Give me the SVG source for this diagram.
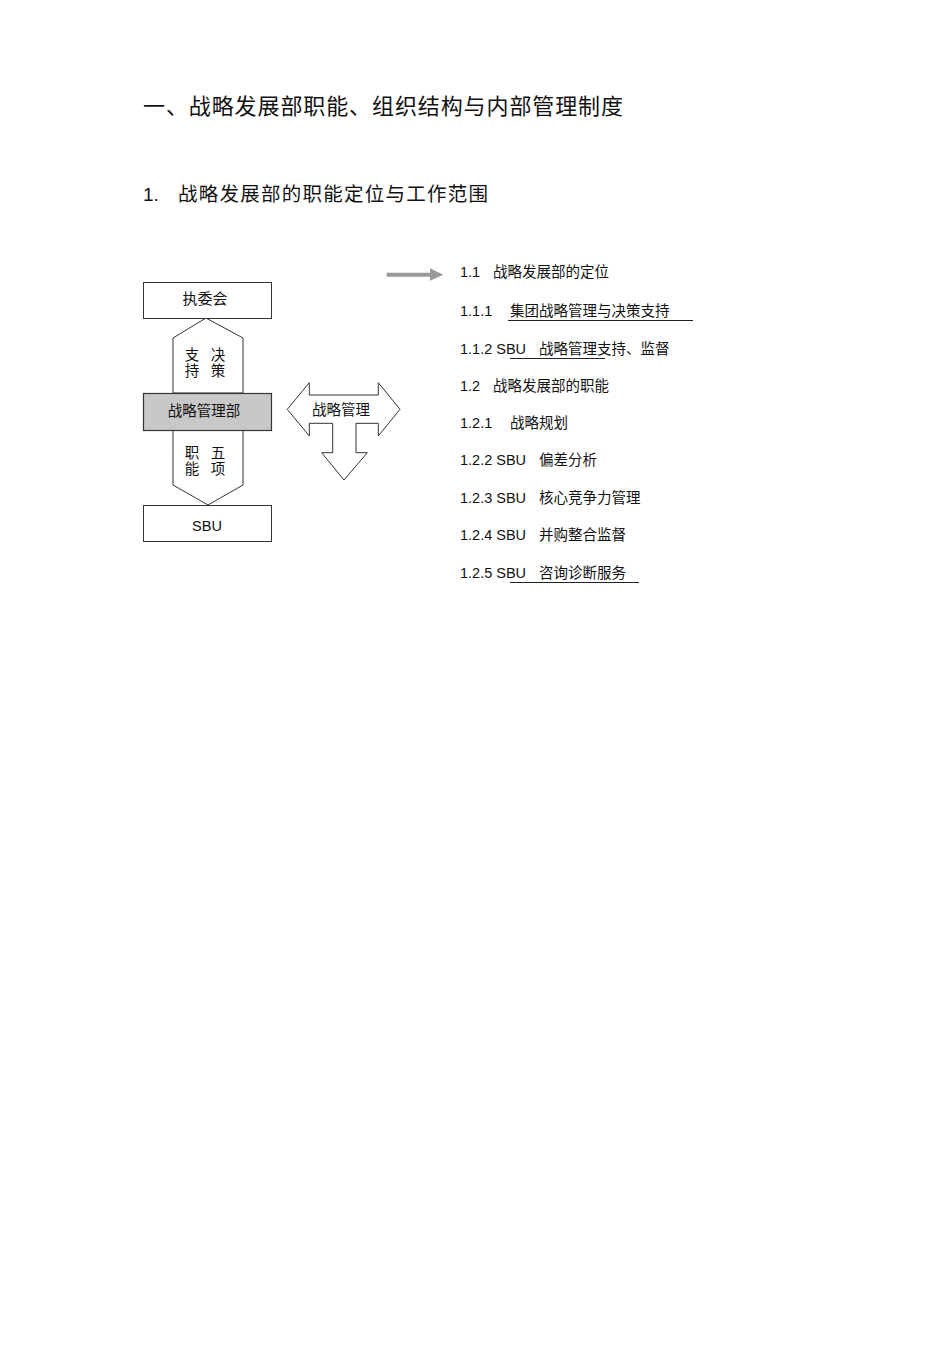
<svg xmlns="http://www.w3.org/2000/svg" width="950" height="1346" viewBox="0 0 950 1346">
<style>
text{font-family:"Liberation Sans","Noto Sans CJK SC",sans-serif;fill:#111}
.box{fill:#fff;stroke:#333;stroke-width:1}
.gray{fill:#c8c8c8;stroke:#333;stroke-width:1.2}
.s14{font-size:14.5px}
.s13{font-size:14.5px}
.mid{text-anchor:middle}
.ul{stroke:#222;stroke-width:1}
</style>
<rect width="950" height="1346" fill="#fff"/>
<text x="143" y="114" style="font-size:22px" textLength="480" lengthAdjust="spacing">一、战略发展部职能、组织结构与内部管理制度</text>
<text x="143" y="201" style="font-size:19px">1.</text>
<text x="178" y="201" style="font-size:19.5px" textLength="310" lengthAdjust="spacing">战略发展部的职能定位与工作范围</text>

<g id="upper-hex"><polygon class="box" points="173,338 206,318 243,338 243,393 173,393"/>
<text class="s14 mid" x="192" y="360">支</text><text class="s14 mid" x="218" y="360">决</text>
<text class="s14 mid" x="192" y="376">持</text><text class="s14 mid" x="218" y="376">策</text></g>
<g id="lower-hex"><polygon class="box" points="173,430 243,430 243,485 208,505 173,485"/>
<text class="s14 mid" x="192" y="458">职</text><text class="s14 mid" x="218" y="458">五</text>
<text class="s14 mid" x="192" y="474">能</text><text class="s14 mid" x="218" y="474">项</text></g>
<g id="exec"><rect class="box" x="143.5" y="282.5" width="128" height="36"/>
<text class="mid" style="font-size:15px" x="205" y="304">执委会</text></g>
<g id="dept"><rect class="gray" x="143.5" y="393.5" width="128" height="37"/>
<text class="s14 mid" x="204" y="416">战略管理部</text></g>
<g id="sbu"><rect class="box" x="143.5" y="505.5" width="128" height="36"/>
<text class="s14 mid" x="207" y="531">SBU</text></g>

<g id="mgmt-arrow"><polygon class="box" points="287.3,409.3 309.3,382.7 309.3,395 378.3,395 378.3,382.7 400,409.3 378.3,436 378.3,423.3 356,423.3 356,452.7 367.3,452.7 344,480 321.7,452.7 332.7,452.7 332.7,423.3 309.3,423.3 309.3,436"/>
<text class="s14 mid" x="341" y="415">战略管理</text></g>

<g id="connectors"><polygon fill="#999" points="386.7,272.7 430,272.7 430,268.3 443.3,274.7 430,280.7 430,276.7 386.7,276.7"/></g>

<g id="list">
<text class="s13" x="460" y="277">1.1</text><text class="s13" x="493" y="277">战略发展部的定位</text>
<text class="s13" x="460" y="316">1.1.1</text><text class="s13" x="510" y="316">集团战略管理与决策支持</text>
<line class="ul" x1="508" y1="320.5" x2="693" y2="320.5"/>
<text class="s13" x="460" y="354">1.1.2 SBU</text><text class="s13" x="539" y="354">战略管理支持、监督</text>
<line class="ul" x1="510" y1="358.5" x2="605" y2="358.5"/>
<text class="s13" x="460" y="391">1.2</text><text class="s13" x="493" y="391">战略发展部的职能</text>
<text class="s13" x="460" y="428">1.2.1</text><text class="s13" x="510" y="428">战略规划</text>
<text class="s13" x="460" y="465">1.2.2 SBU</text><text class="s13" x="539" y="465">偏差分析</text>
<text class="s13" x="460" y="503">1.2.3 SBU</text><text class="s13" x="539" y="503">核心竞争力管理</text>
<text class="s13" x="460" y="540">1.2.4 SBU</text><text class="s13" x="539" y="540">并购整合监督</text>
<text class="s13" x="460" y="578">1.2.5 SBU</text><text class="s13" x="539" y="578">咨询诊断服务</text>
<line class="ul" x1="510" y1="582.5" x2="639" y2="582.5"/>
</g>
</svg>
